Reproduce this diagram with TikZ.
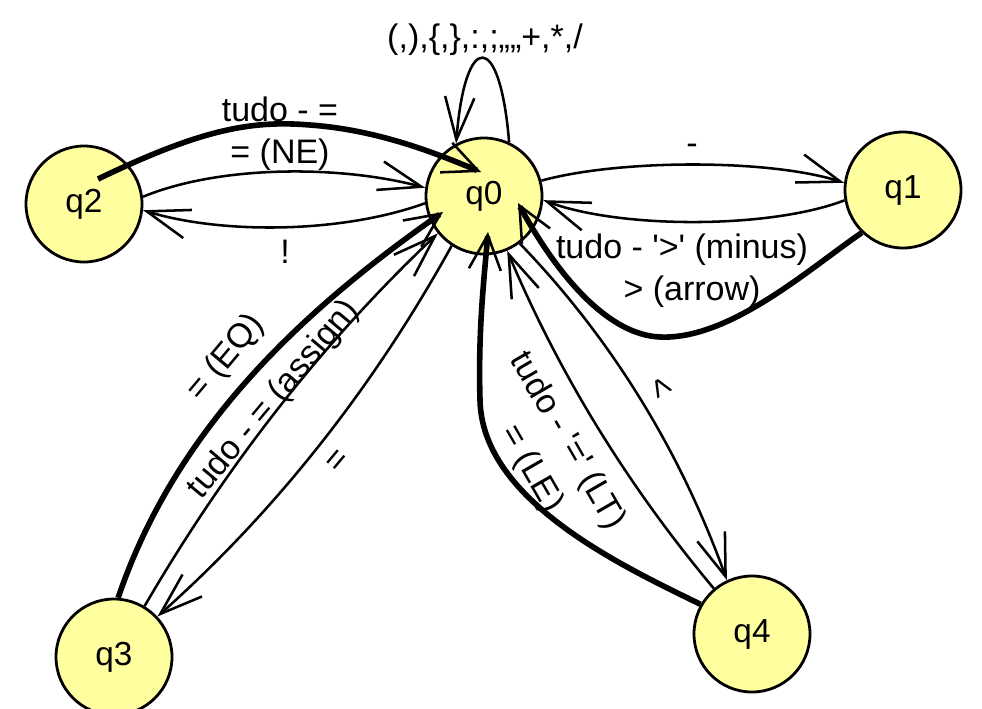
\documentclass[tikz,border=0pt]{standalone}
\usepackage{fontspec}
\setmainfont{Liberation Sans}
\usetikzlibrary{arrows.meta}
\definecolor{statefill}{RGB}{255,255,160}
\begin{document}
\begin{tikzpicture}[x=0.75pt,y=-0.75pt,
  state/.style={circle,draw,line width=2.1pt,fill=statefill,minimum size=87pt,inner sep=0pt,font=\fontsize{25}{30}\selectfont},
  trans/.style={line width=1.9pt,-{Straight Barb[length=32pt,width=22pt]}},
  other/.style={line width=4.2pt,-{Straight Barb[length=26pt,width=24pt,line width=1.9pt]}},
  lbl/.style={font=\fontsize{25.5}{30}\selectfont,inner sep=0pt}]
\useasboundingbox (0,0) rectangle (982,708);

% states
\node[state] (q0) at (484,196) {q0};
\node[state] (q1) at (903,190) {q1};
\node[state] (q2) at (84,204) {q2};
\node[state] (q3) at (114,657) {q3};
\node[state] (q4) at (752,634) {q4};

% ends of the "other" transitions inside the states
\coordinate (h2s) at (98,179);
\coordinate (h2e) at (481,172);
\coordinate (h1e) at (518,203);
\coordinate (h3e) at (443,212);
\coordinate (h4e) at (488,232);

% transitions
\draw[trans] (q0.65) .. controls (500,30) and (465,30) .. (q0.118);
\draw[trans] (q0.15) .. controls (620,159) and (770,159) .. (q1.173);
\draw[trans] (q1.190) .. controls (770,229) and (620,229) .. (q0.356);
\draw[other] (q1.226) .. controls (810,268) and (730,340) .. (660,337)
                      .. controls (610,335) and (560,280) .. (h1e);
\draw[trans] (q0.187) .. controls (340,234) and (220,234) .. (q2.354);
\draw[trans] (q2.7) .. controls (220,165) and (340,165) .. (q0.172);
\draw[other] (h2s) .. controls (200,130) and (250,120) .. (310,125)
                   .. controls (380,130) and (440,155) .. (h2e);
\draw[trans] (q0.237) .. controls (373,388) and (276,511) .. (q3.43);
\draw[trans] (q3.59) .. controls (226,466) and (323,342) .. (q0.219);
\draw[other] (q3.86) .. controls (175,430) and (300,312) .. (h3e);
\draw[trans] (q0.307) .. controls (611,338) and (680,450) .. (q4.115);
\draw[trans] (q4.130) .. controls (628,486) and (559,374) .. (q0.293);
\draw[other] (q4.150) .. controls (620,565) and (482,500) .. (480,400)
                      .. controls (478,330) and (484,280) .. (h4e);

% labels
\node[lbl,anchor=base] (lloop) at (485,48) {(,),\{,\},:,;,,,,+,*,/};
\node[lbl,anchor=base] (l2a) at (280,121) {tudo - =};
\node[lbl,anchor=base] (l2b) at (280,163) {= (NE)};
\node[lbl,anchor=base] (l2c) at (285,263) {!};
\node[lbl,anchor=base] (l1a) at (692,154) {-};
\node[lbl,anchor=base] (l1b) at (682,258) {tudo - \textquotesingle>\textquotesingle{} (minus)};
\node[lbl,anchor=base] (l1c) at (692,300) {> (arrow)};
\node[lbl,rotate=50] (l3a) at (226,358) {= (EQ)};
\node[lbl,rotate=50] (l3b) at (274,400) {tudo - = (assign)};
\node[lbl,rotate=50] (l3c) at (338,462) {=};
\node[lbl,rotate=-60] (l4a) at (660,388) {<};
\node[lbl,rotate=-60] (l4b) at (567,441) {tudo - \textquotesingle=\textquotesingle{} (LT)};
\node[lbl,rotate=-60] (l4c) at (531,469) {= (LE)};
\end{tikzpicture}
\end{document}
